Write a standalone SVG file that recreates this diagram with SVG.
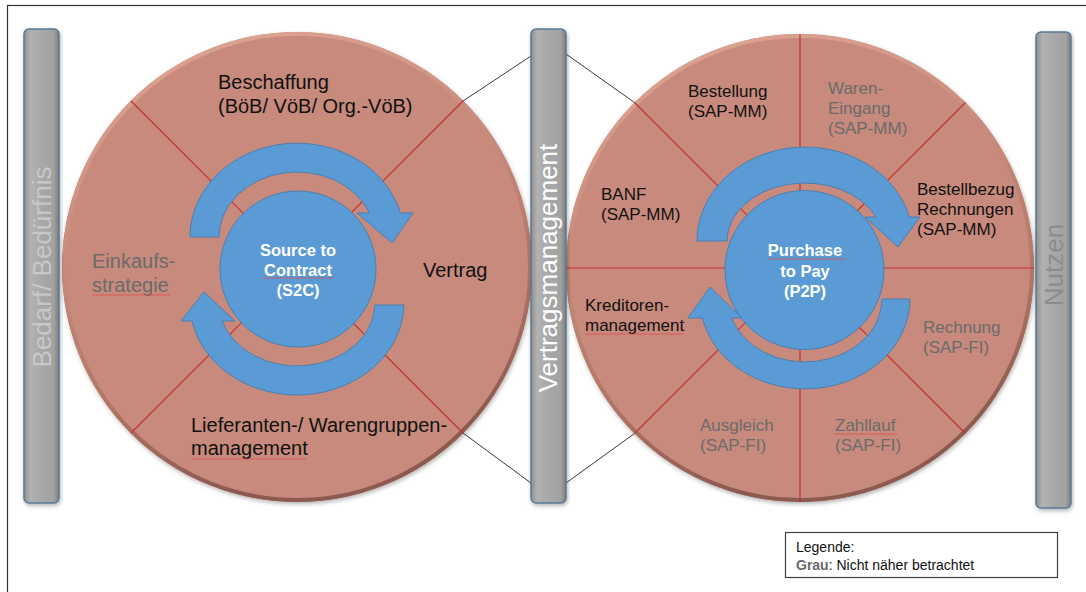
<svg xmlns="http://www.w3.org/2000/svg" width="1086" height="592" viewBox="0 0 1086 592">
<style>
.t{font-family:"Liberation Sans",Arial,sans-serif;fill:#111}
.big{font-size:20px}
.mid{font-size:17px}
.gray{fill:#6b6b6b}
.inner{font-family:"Liberation Sans",Arial,sans-serif;font-size:16.5px;font-weight:bold;fill:#fff;text-anchor:middle}
.bar{fill:url(#barg);stroke:#5a7896;stroke-width:1.5}
.bartxt{font-family:"Liberation Sans",Arial,sans-serif;font-size:26px;text-anchor:middle}
.sect{stroke:#c83030;stroke-width:1.2;fill:none}
.conn{stroke:#3a3a3a;stroke-width:1;fill:none}
.disk{fill:#c78a7b}
.rim{fill:none;stroke:url(#rimg);stroke-width:4}
.arrow{fill:#5b9bd5;stroke:#4a7fb0;stroke-width:1}
.hub{fill:#5b9bd5;stroke:#4a7fb0;stroke-width:1}
.sq{fill:url(#squig)}
</style>
<defs>
<linearGradient id="barg" x1="0" y1="0" x2="1" y2="0">
<stop offset="0" stop-color="#8e8e8e"/>
<stop offset="0.18" stop-color="#b2b2b2"/>
<stop offset="0.5" stop-color="#a8a8a8"/>
<stop offset="0.85" stop-color="#a2a2a2"/>
<stop offset="1" stop-color="#7c7c7c"/>
</linearGradient>
<linearGradient id="rimg" x1="0" y1="0" x2="0.3" y2="1">
<stop offset="0" stop-color="#e2a996"/>
<stop offset="0.45" stop-color="#c78a7b"/>
<stop offset="0.75" stop-color="#b27667"/>
<stop offset="1" stop-color="#8c5a4f"/>
</linearGradient>
<filter id="shadow" x="-10%" y="-10%" width="120%" height="120%">
<feDropShadow dx="1" dy="2" stdDeviation="2" flood-color="#000" flood-opacity="0.3"/>
</filter>
<pattern id="squig" width="3" height="2" patternUnits="userSpaceOnUse">
<path d="M0,1.7 L0.75,0.3 L1.5,1.7 L2.25,0.3 L3,1.7" fill="none" stroke="#e04848" stroke-width="0.5"/>
</pattern>
</defs>

<rect x="7.5" y="5.5" width="1100" height="620" fill="none" stroke="#333" stroke-width="1.2"/>

<g id="left-circle">
<circle class="disk" cx="297" cy="267" r="235" filter="url(#shadow)"/>
<circle class="rim" cx="297" cy="267" r="233"/>
<line class="sect" x1="131" y1="101" x2="463" y2="433"/>
<line class="sect" x1="463" y1="101" x2="131" y2="433"/>
</g>

<g id="right-circle">
<circle class="disk" cx="800" cy="268" r="234" filter="url(#shadow)"/>
<circle class="rim" cx="800" cy="268" r="232"/>
<line class="sect" x1="800" y1="34" x2="800" y2="502"/>
<line class="sect" x1="566" y1="268" x2="1034" y2="268"/>
<line class="sect" x1="634.5" y1="102.5" x2="965.5" y2="433.5"/>
<line class="sect" x1="965.5" y1="102.5" x2="634.5" y2="433.5"/>
</g>

<g id="connectors">
<line class="conn" x1="463" y1="101" x2="531" y2="56"/>
<line class="conn" x1="463" y1="433" x2="531" y2="483"/>
<line class="conn" x1="566" y1="54" x2="634.5" y2="102.5"/>
<line class="conn" x1="566" y1="483" x2="634.5" y2="433.5"/>
</g>

<g id="s2c-cycle">
<path class="arrow" d="M190,237 A107 94 0 0 1 400.4,213 L413,213 L392,243 L357,213 L369.5,213 A78 65 0 0 0 219,237 Z"/>
<path class="arrow" d="M404,305 A107 92 0 0 1 192.1,321 L181,321 L204,292 L235,321 L222.3,321 A78 63 0 0 0 375,305 Z"/>
<circle class="hub" cx="298" cy="269" r="78"/>
<text class="inner" x="298" y="256">Source to</text>
<text class="inner" x="298" y="276">Contract</text>
<text class="inner" x="298" y="296">(S2C)</text>
<rect class="sq" x="262" y="277" width="71" height="2"/>
</g>

<g id="p2p-cycle">
<path class="arrow" d="M697,241 A108 94 0 0 1 909.4,217 L920,217 L898,247 L865,217 L876,217 A78 58 0 0 0 727,241 Z"/>
<path class="arrow" d="M910,299 A105 90 0 0 1 702.4,318 L688,318 L710,287 L742,318 L731.6,318 A77 63 0 0 0 882,299 Z"/>
<circle class="hub" cx="804.5" cy="270" r="79.5"/>
<text class="inner" x="805" y="256">Purchase</text>
<text class="inner" x="805" y="277">to Pay</text>
<text class="inner" x="805" y="297">(P2P)</text>
<rect class="sq" x="767" y="258" width="78" height="2"/>
</g>

<g id="beschaffung"><text class="t big" x="218" y="89">Beschaffung</text><text class="t big" x="218" y="113">(BöB/ VöB/ Org.-VöB)</text></g>
<g id="einkaufsstrategie"><text class="t big gray" x="92" y="268">Einkaufs-</text><text class="t big gray" x="92" y="292">strategie</text><rect class="sq" x="92" y="294" width="78" height="2"/></g>
<g id="vertrag"><text class="t big" x="423" y="277">Vertrag</text></g>
<g id="lieferanten"><text class="t big" x="191" y="432">Lieferanten-/ Warengruppen-</text><text class="t big" x="191" y="455">management</text><rect class="sq" x="191" y="458" width="115" height="2"/></g>

<g id="bestellung"><text class="t mid" x="688" y="97">Bestellung</text><text class="t mid" x="688" y="117">(SAP-MM)</text></g>
<g id="wareneingang"><text class="t mid gray" x="828" y="94">Waren-</text><text class="t mid gray" x="828" y="114">Eingang</text><text class="t mid gray" x="828" y="134">(SAP-MM)</text></g>
<g id="banf"><text class="t mid" x="601" y="200">BANF</text><text class="t mid" x="601" y="220">(SAP-MM)</text></g>
<g id="bestellbezug"><text class="t mid" x="917" y="195">Bestellbezug</text><text class="t mid" x="917" y="215">Rechnungen</text><text class="t mid" x="917" y="235">(SAP-MM)</text></g>
<g id="kreditoren"><text class="t mid" x="585" y="311">Kreditoren-</text><text class="t mid" x="585" y="331">management</text><rect class="sq" x="585" y="333" width="99" height="2"/></g>
<g id="rechnung"><text class="t mid gray" x="923" y="333">Rechnung</text><text class="t mid gray" x="923" y="353">(SAP-FI)</text></g>
<g id="ausgleich"><text class="t mid gray" x="700" y="431">Ausgleich</text><text class="t mid gray" x="700" y="451">(SAP-FI)</text></g>
<g id="zahllauf"><text class="t mid gray" x="835" y="431">Zahllauf</text><text class="t mid gray" x="835" y="451">(SAP-FI)</text><rect class="sq" x="835" y="433" width="63" height="2"/></g>

<g id="bar-bedarf">
<rect class="bar" x="24" y="29" width="35" height="474" rx="5" filter="url(#shadow)"/>
<text class="bartxt" fill="#c8c8c8" transform="translate(51,267) rotate(-90)">Bedarf/ Bedürfnis</text>
</g>
<g id="bar-vertragsmanagement">
<rect class="bar" x="531" y="29" width="35" height="474" rx="5" filter="url(#shadow)"/>
<text class="bartxt" fill="#ffffff" transform="translate(557,268) rotate(-90)">Vertragsmanagement</text>
</g>
<g id="bar-nutzen">
<rect class="bar" x="1036" y="32" width="35" height="476" rx="5" filter="url(#shadow)"/>
<text class="bartxt" fill="#8c8c8c" transform="translate(1063,265) rotate(-90)">Nutzen</text>
</g>

<g id="legende">
<rect x="785.5" y="532.5" width="272" height="45" fill="#fff" stroke="#404040" stroke-width="1.2"/>
<text class="t" font-size="14" x="796" y="552">Legende:</text>
<text class="t" font-size="14" x="796" y="570"><tspan font-weight="bold" fill="#6b6b6b">Grau</tspan>: Nicht näher betrachtet</text>
</g>
</svg>
